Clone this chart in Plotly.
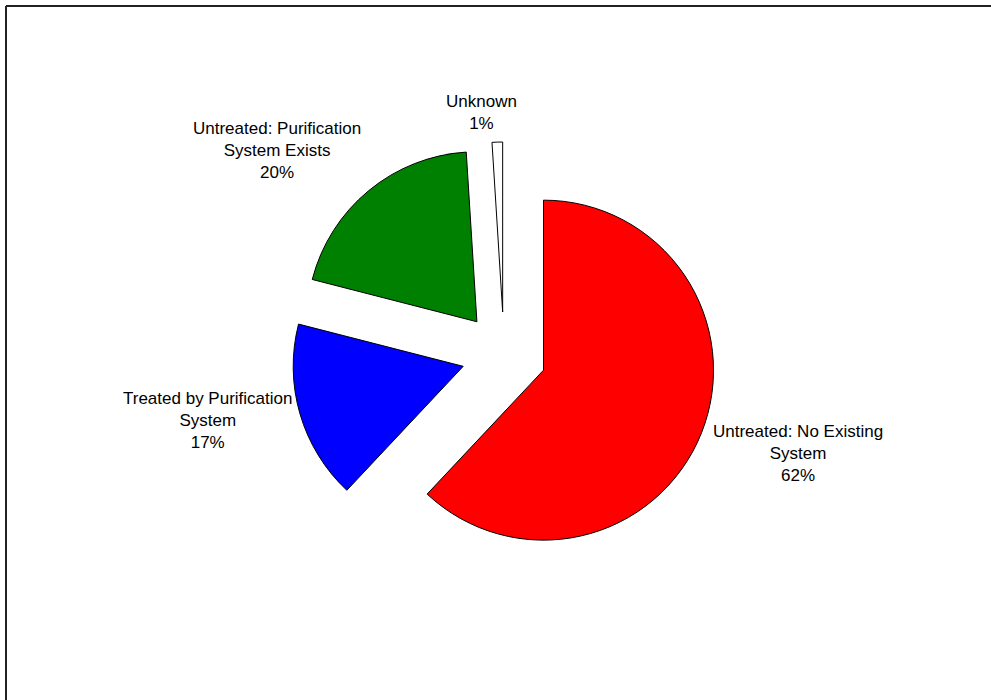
import plotly.graph_objects as go

labels = ["Untreated: No Existing System", "Treated by Purification System",
          "Untreated: Purification System Exists", "Unknown"]
values = [62, 17, 20, 1]
label_text = ["Untreated: No Existing<br>System<br>62%",
              "Treated by Purification<br>System<br>17%",
              "Untreated: Purification<br>System Exists<br>20%",
              "Unknown<br>1%"]
colors = ["#FF0000", "#0000FF", "#008000", "#FFFFFF"]
pulls = [0.25, 0.25, 0.25, 0.25]

W, H = 991, 700
cx, cy = 504, 354.5
half = 212.5

fig = go.Figure(go.Pie(
    labels=labels, values=values, sort=False, direction="clockwise", rotation=0,
    marker=dict(colors=colors, line=dict(color="black", width=1)),
    pull=pulls, textinfo="none", hoverinfo="label+percent",
    domain=dict(x=[(cx - 260) / W, (cx + 260) / W],
                y=[(H - cy - half) / H, (H - cy + half) / H]),
    showlegend=False,
))

label_pos = [(798, 453), (207, 420), (277, 150), (481, 112)]
for txt, (x, y) in zip(label_text, label_pos):
    fig.add_annotation(x=x / W, y=1 - y / H, xref="paper", yref="paper",
                       xanchor="center", yanchor="middle",
                       text=txt, showarrow=False, align="center",
                       font=dict(family="Liberation Sans, Arial", size=17, color="black"))

fig.add_shape(type="line", xref="paper", yref="paper", x0=6 / W, x1=1, y0=1 - 6 / H, y1=1 - 6 / H,
              line=dict(color="#222222", width=2))
fig.add_shape(type="line", xref="paper", yref="paper", x0=6 / W, x1=6 / W, y0=0, y1=1 - 6 / H,
              line=dict(color="#222222", width=2))

fig.update_layout(width=W, height=H, margin=dict(l=0, r=0, t=0, b=0),
                  paper_bgcolor="white", plot_bgcolor="white")
fig.write_html("out.html")
